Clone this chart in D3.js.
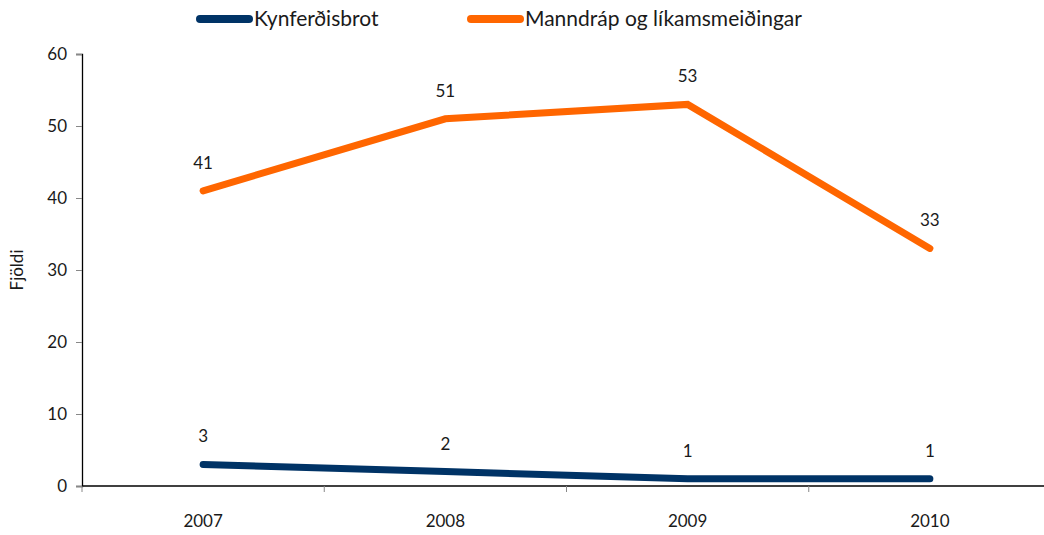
<!DOCTYPE html>
<html>
<head>
<meta charset="utf-8">
<script src="https://cdn.jsdelivr.net/npm/d3@7"></script>
<style>
  body { margin: 0; background: #fff; }
  text { font-family: Lato, "Open Sans", sans-serif; fill: #1a1a1a; }
</style>
</head>
<body>
<svg id="chart" width="1044" height="535"></svg>
<script>
let years = ['2007', '2008', '2009', '2010'];
let kynferdisbrot = [3, 2, 1, 1];
let manndrap = [41, 51, 53, 33];
let yTicks = [0, 10, 20, 30, 40, 50, 60];

let series = [
    {name: 'Kynferðisbrot', values: kynferdisbrot, color: '#003366'},
    {name: 'Manndráp og líkamsmeiðingar', values: manndrap, color: '#ff6600'}
];

let svg = d3.select("#chart"),
    margin = {top: 54, right: -7, bottom: 49, left: 82},
    width = +svg.attr("width") - margin.left - margin.right,
    height = +svg.attr("height") - margin.top - margin.bottom,
    g = svg.append("g").attr("transform", "translate(" + margin.left + "," + margin.top + ")");

let scaleX = d3.scaleBand()
    .domain(years)
    .range([0, width]);

let scaleY = d3.scaleLinear()
    .domain([0, 60])
    .range([height, 0]);

// y axis
let yAxis = g.append("g")
    .call(d3.axisLeft(scaleY).tickValues(yTicks).tickSize(6).tickPadding(9));
yAxis.select(".domain").attr("stroke", "#000").attr("stroke-width", 1.3);
yAxis.selectAll(".tick line").attr("stroke", "#888");
yAxis.selectAll(".tick text").attr("font-size", 17).attr("font-family", "Lato, sans-serif").attr("fill", "#1a1a1a");

// x axis: ticks on band boundaries
let xg = g.append("g").attr("transform", "translate(0," + height + ")");
xg.append("line")
    .attr("x1", 0).attr("x2", width)
    .attr("stroke", "#000").attr("stroke-width", 1.3);
xg.selectAll(".bnd")
    .data(years)
    .enter().append("line")
    .attr("x1", d => scaleX(d)).attr("x2", d => scaleX(d))
    .attr("y1", 0).attr("y2", 6)
    .attr("stroke", "#888");
xg.selectAll(".lbl")
    .data(years)
    .enter().append("text")
    .attr("x", d => scaleX(d) + scaleX.bandwidth() / 2)
    .attr("y", 41)
    .attr("text-anchor", "middle")
    .attr("font-size", 17)
    .text(d => d);

// y label
svg.append("text")
    .attr("transform", "translate(23,270) rotate(-90)")
    .attr("text-anchor", "middle")
    .attr("font-size", 17)
    .text("Fjöldi");

let line = d3.line()
    .x((d, i) => scaleX(years[i]) + scaleX.bandwidth() / 2)
    .y(d => scaleY(d));

series.forEach(s => {
    g.append("path")
        .datum(s.values)
        .attr("d", line)
        .attr("fill", "none")
        .attr("stroke", s.color)
        .attr("stroke-width", 7)
        .attr("stroke-linecap", "round")
        .attr("stroke-linejoin", "miter");

    g.selectAll(null)
        .data(s.values)
        .enter().append("text")
        .attr("x", (d, i) => scaleX(years[i]) + scaleX.bandwidth() / 2)
        .attr("y", d => scaleY(d) - 22)
        .attr("text-anchor", "middle")
        .attr("font-size", 17)
        .text(d => d);
});

// legend
let legendX = [198, 469];
let legend = svg.selectAll(".legend")
    .data(series)
    .enter().append("g")
    .attr("transform", (d, i) => "translate(" + legendX[i] + ",19)");

legend.append("line")
    .attr("x1", 2).attr("x2", 51)
    .attr("stroke", d => d.color)
    .attr("stroke-width", 8)
    .attr("stroke-linecap", "round");

legend.append("text")
    .attr("x", 56)
    .attr("y", 7)
    .attr("font-size", 21)
    .text(d => d.name);
</script>
</body>
</html>
